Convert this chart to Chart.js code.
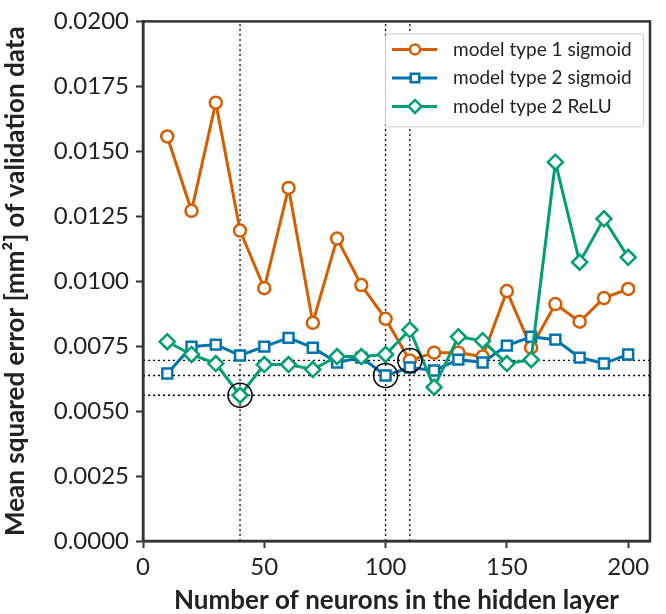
<!DOCTYPE html>
<html>
<head>
<meta charset="utf-8">
<script src="https://cdn.jsdelivr.net/npm/chart.js@4.4.0/dist/chart.umd.min.js"></script>
<style>
  html, body { margin: 0; padding: 0; background: #fff; }
  #wrap { width: 666px; height: 614px; }
</style>
</head>
<body>
<div id="wrap"><canvas id="mseChart" width="666" height="614"></canvas></div>
<script>
// data
const neurons = [10, 20, 30, 40, 50, 60, 70, 80, 90, 100, 110, 120, 130, 140, 150, 160, 170, 180, 190, 200];
const type1Sigmoid = [0.01557, 0.01271, 0.01687, 0.01195, 0.00973, 0.01359, 0.00840, 0.01164, 0.00985, 0.00855,
  0.00695, 0.00725, 0.00725, 0.00710, 0.00962, 0.00744, 0.00912, 0.00844, 0.00935, 0.00970];
const type2Sigmoid = [0.00645, 0.00748, 0.00756, 0.00714, 0.00748, 0.00782, 0.00744, 0.00687, 0.00706, 0.00637,
  0.00668, 0.00656, 0.00698, 0.00687, 0.00752, 0.00786, 0.00775, 0.00706, 0.00683, 0.00718];
const type2Relu = [0.00767, 0.00718, 0.00683, 0.00561, 0.00679, 0.00679, 0.00660, 0.00710, 0.00710, 0.00718,
  0.00813, 0.00592, 0.00786, 0.00771, 0.00683, 0.00698, 0.01458, 0.01073, 0.01240, 0.01092];
const seriesLabels = ["model type 1 sigmoid", "model type 2 sigmoid", "model type 2 ReLU"];
const xTicks = [0, 50, 100, 150, 200];
const yTicks = [0, 0.0025, 0.005, 0.0075, 0.01, 0.0125, 0.015, 0.0175, 0.02];

// best model per series (marked with circle + dotted lines)
const bestNeurons = [110, 100, 40];
const bestErrors = [
  type1Sigmoid[neurons.indexOf(110)],
  type2Sigmoid[neurons.indexOf(100)],
  type2Relu[neurons.indexOf(40)]
];

const xMin = 0, xMax = 209;
const yMin = 0, yMax = 0.02;

const colors = ["#d55e00", "#0072b2", "#009e73"];
const styles = ["circle", "rect", "rectRot"];
const radii = [6, 7, 7.5];
const textColor = "#222222";
const axisColor = "#333333";
const fontFamily = "Lato, 'Open Sans', sans-serif";

function toPoints(ys) {
  return neurons.map((x, i) => ({ x: x, y: ys[i] }));
}

const datasets = [];
[type1Sigmoid, type2Sigmoid, type2Relu].forEach((ys, i) => {
  datasets.push({
    label: seriesLabels[i],
    data: toPoints(ys),
    borderColor: colors[i],
    backgroundColor: "#ffffff",
    borderWidth: 3,
    pointStyle: styles[i],
    pointRadius: radii[i],
    pointBorderWidth: 2.5,
    pointBackgroundColor: "#ffffff",
    pointBorderColor: colors[i],
    tension: 0,
    order: 3 - i
  });
});

// dotted guide lines
bestNeurons.forEach((n) => {
  datasets.push({
    label: "_v" + n,
    data: [{ x: n, y: yMin }, { x: n, y: yMax }],
    borderColor: "#000",
    borderWidth: 1.3,
    borderDash: [2, 3],
    pointRadius: 0,
    order: 10
  });
});
bestErrors.forEach((e, i) => {
  datasets.push({
    label: "_h" + i,
    data: [{ x: xMin, y: e }, { x: xMax, y: e }],
    borderColor: "#000",
    borderWidth: 1.3,
    borderDash: [2, 3],
    pointRadius: 0,
    order: 10
  });
});
// circles around the best points
datasets.push({
  label: "_best",
  data: bestNeurons.map((n, i) => ({ x: n, y: bestErrors[i] })),
  showLine: false,
  pointStyle: "circle",
  pointRadius: 12,
  pointBorderWidth: 1.6,
  pointBorderColor: "#000",
  pointBackgroundColor: "rgba(0,0,0,0)",
  order: 0
});

// frame around plot area
const framePlugin = {
  id: "frame",
  afterDatasetsDraw(chart) {
    const a = chart.chartArea;
    const ctx = chart.ctx;
    ctx.save();
    ctx.strokeStyle = axisColor;
    ctx.lineWidth = 2.5;
    ctx.strokeRect(a.left, a.top, a.right - a.left, a.bottom - a.top);
    ctx.restore();
  }
};

// legend inside the plot, upper right
const legendPlugin = {
  id: "boxLegend",
  afterDraw(chart) {
    const a = chart.chartArea;
    const ctx = chart.ctx;
    const w = 258, h = 93;
    const x0 = a.right - 7 - w, y0 = a.top + 12;
    ctx.save();
    ctx.fillStyle = "#ffffff";
    ctx.strokeStyle = "#cccccc";
    ctx.lineWidth = 1;
    ctx.beginPath();
    ctx.roundRect(x0 + 0.5, y0 + 0.5, w, h, 3);
    ctx.fill();
    ctx.stroke();
    ctx.font = "19px " + fontFamily;
    ctx.textBaseline = "middle";
    ctx.textAlign = "left";
    for (let i = 0; i < 3; i++) {
      const cy = y0 + 16 + i * 28.5;
      ctx.strokeStyle = colors[i];
      ctx.lineWidth = 3;
      ctx.beginPath();
      ctx.moveTo(x0 + 7, cy);
      ctx.lineTo(x0 + 52, cy);
      ctx.stroke();
      ctx.fillStyle = "#ffffff";
      ctx.lineWidth = 2.5;
      Chart.helpers.drawPoint(ctx, { pointStyle: styles[i], radius: radii[i] - 1, rotation: 0, borderWidth: 2.5 }, x0 + 30, cy);
      ctx.fillStyle = textColor;
      ctx.fillText(seriesLabels[i], x0 + 68, cy);
    }
    ctx.restore();
  }
};

const ctx = document.getElementById("mseChart").getContext("2d");
new Chart(ctx, {
  type: "line",
  data: { datasets: datasets },
  plugins: [framePlugin, legendPlugin],
  options: {
    responsive: false,
    animation: false,
    devicePixelRatio: 1,
    layout: { padding: { top: 17, right: 16, left: 0, bottom: 0 } },
    plugins: {
      legend: { display: false },
      tooltip: { enabled: false }
    },
    scales: {
      x: {
        type: "linear",
        min: xMin,
        max: xMax,
        afterBuildTicks: (scale) => { scale.ticks = xTicks.map((v) => ({ value: v })); },
        afterFit: (scale) => { scale.height = 73; },
        ticks: {
          color: textColor,
          font: { family: fontFamily, size: 24 },
          padding: 5,
          maxRotation: 0
        },
        grid: {
          drawOnChartArea: false,
          drawTicks: true,
          tickLength: 7,
          tickWidth: 2,
          tickColor: axisColor
        },
        border: { display: true, color: axisColor, width: 2.5 },
        title: {
          display: true,
          text: "Number of neurons in the hidden layer",
          color: textColor,
          font: { family: fontFamily, size: 26, weight: "bold" },
          padding: { top: 0, bottom: -2 }
        }
      },
      y: {
        type: "linear",
        min: yMin,
        max: yMax,
        afterBuildTicks: (scale) => { scale.ticks = yTicks.map((v) => ({ value: v })); },
        afterFit: (scale) => { scale.width = 143; },
        ticks: {
          color: textColor,
          font: { family: fontFamily, size: 24 },
          padding: 7,
          callback: (v) => v.toFixed(4)
        },
        grid: {
          drawOnChartArea: false,
          drawTicks: true,
          tickLength: 7,
          tickWidth: 2,
          tickColor: axisColor
        },
        border: { display: true, color: axisColor, width: 2.5 },
        title: {
          display: true,
          text: "Mean squared error [mm²] of validation data",
          color: textColor,
          font: { family: fontFamily, size: 26, weight: "bold" },
          padding: { top: 0, bottom: 0 }
        }
      }
    }
  }
});
</script>
</body>
</html>
